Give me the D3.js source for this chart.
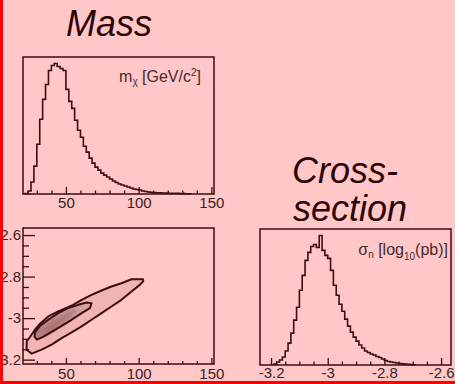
<!DOCTYPE html>
<html><head><meta charset="utf-8">
<script src="https://cdn.jsdelivr.net/npm/d3@7"></script>
<style>
html,body{margin:0;padding:0;background:#ffc7c7;}
svg{display:block;}
text{font-family:"Liberation Sans",Arial,Helvetica,sans-serif;}
</style></head>
<body>
<svg id="c" width="455" height="384"></svg>
<script>
// ---------- data ----------
const massBinStart = 22, massBinWidth = 2;
const massCounts = [0.5,3,12,28,50,75,95,110,124,129,131,128,126,124,105,93,86,74,64,57,48,42,36,31,27,24,21,19,17,15,13,11.5,10,9,8,7,6,5,4.5,4,3,2.5,2,1.8,1.5,1.3,1.1,1,0.9,0.8,0.7,0.7,0.6,0.5,0.4,0.3,0.2];
const sigBinStart = -3.19, sigBinWidth = 0.01;
const sigCounts = [1,3,5,8,14,22,32,45,58,75,90,105,113,119,121,118,130,115,110,107,95,80,70,61,54,46,39,33,28,24,20,17,14,12.5,11,10,8.5,7.5,6,4.5,3.5,3,2.5,2,1.5,1.2,1,0.8,0.5,0.3];
const massDomain = [20.5, 151.8];
const sigDomainX = [-3.239, -2.565];
const sigDomainY = [-3.221, -2.566];
const massMajorTicks = [50,100,150];
const massMinorTicks = [30,40,60,70,80,90,110,120,130,140];
const sigMajorTicks = [-3.2,-3,-2.8,-2.6];
const sigMinorTicks = [-3.15,-3.1,-3.05,-2.95,-2.9,-2.85,-2.75,-2.7,-2.65];
// contours [mass, log10 sigma]
const outerContour = [[103,-2.813],[95.1,-2.813],[88.2,-2.832],[81.3,-2.848],[74.5,-2.867],[67.6,-2.888],[60.8,-2.912],[55,-2.936],[44.7,-2.968],[37.9,-2.992],[32.2,-3.027],[28.7,-3.056],[25.3,-3.091],[23,-3.112],[23,-3.152],[26.5,-3.171],[33.3,-3.152],[40.2,-3.128],[47.1,-3.096],[53.9,-3.069],[60.8,-3.04],[67.6,-3.008],[74.5,-2.976],[81.3,-2.944],[88.2,-2.912],[95.1,-2.872],[100.8,-2.84],[103.2,-2.822]];
const innerContour = [[28.7,-3.07],[32.2,-3.037],[37.9,-3.008],[44.7,-2.976],[51.6,-2.952],[58.4,-2.936],[64.2,-2.925],[67.6,-2.928],[66.5,-2.952],[60.8,-2.976],[53.9,-3.008],[47.1,-3.037],[40.2,-3.066],[34.4,-3.09],[30.1,-3.104],[28.4,-3.09]];
const coreRegion = [[34,-3.07],[40,-3.03],[48,-2.99],[56,-2.96],[58,-2.965],[50,-3.01],[42,-3.05],[36,-3.08]];

// ---------- style ----------
const LINE = "#3c0e0e", TXT = "#3a2222";
const svg = d3.select("#c");
const defs = svg.append("defs");
const blur = defs.append("filter").attr("id","bl").attr("x","-50%").attr("y","-50%").attr("width","200%").attr("height","200%");
blur.append("feGaussianBlur").attr("stdDeviation",2.5);
const grad = defs.append("linearGradient").attr("id","ig").attr("x1","0").attr("x2","1").attr("y1","0").attr("y2","0");
grad.append("stop").attr("offset","0%").attr("stop-color","#b27a7a");
grad.append("stop").attr("offset","100%").attr("stop-color","#dcaaaa");

svg.append("rect").attr("width",455).attr("height",384).attr("fill","#ffc7c7");

function stepPath(xs, ys, start, w, counts){
  const pts = counts.map((c,i)=>[start+i*w, c]);
  pts.push([start+counts.length*w, counts[counts.length-1]]);
  const line = d3.line().x(d=>xs(d[0])).y(d=>ys(d[1])).curve(d3.curveStepAfter);
  const x0 = xs(start), x1 = xs(start+counts.length*w);
  return "M"+x0+","+ys(0)+"L"+line(pts).slice(1)+"L"+x1+","+ys(0);
}
function fmt(d){ return String(d); }
function xAxis(g, scale, y, majors, minors, majLen, minLen, pad){
  const gm = g.append("g").attr("transform",`translate(0,${y})`)
    .call(d3.axisBottom(scale).tickValues(minors).tickSize(-minLen).tickFormat(""));
  const gM = g.append("g").attr("transform",`translate(0,${y})`)
    .call(d3.axisBottom(scale).tickValues(majors).tickSize(-majLen).tickPadding(pad).tickFormat(fmt));
  [gm,gM].forEach(a=>{a.select(".domain").remove(); a.selectAll("line").attr("stroke",LINE).attr("stroke-width",1.3);});
  gM.selectAll("text").attr("fill",TXT).style("font-size","15px");
}
function frame(x0,y0,x1,y1){
  svg.append("rect").attr("x",x0).attr("y",y0).attr("width",x1-x0).attr("height",y1-y0)
    .attr("fill","none").attr("stroke",LINE).attr("stroke-width",1.5);
}

// ---------- panel 1: mass ----------
const xm = d3.scaleLinear().domain(massDomain).range([23,214]);
const ym = d3.scaleLinear().domain([0, d3.max(massCounts)*1.05]).range([194,57]);
svg.append("path").attr("d",stepPath(xm,ym,massBinStart,massBinWidth,massCounts))
  .attr("fill","none").attr("stroke",LINE).attr("stroke-width",1.6);
xAxis(svg.append("g"), xm, 194, massMajorTicks, massMinorTicks, 7, 3.5, 3);
frame(23,57,214,194);
svg.append("text").attr("x",109).attr("y",36).attr("text-anchor","middle")
  .style("font-size","36px").style("font-style","italic").attr("fill","#2c0606").text("Mass");
const ml = svg.append("text").attr("x",201).attr("y",82).attr("text-anchor","end")
  .style("font-size","16px").attr("fill","#4a2a2a");
ml.append("tspan").text("m");
ml.append("tspan").attr("dy",3).style("font-size","10px").text("χ");
ml.append("tspan").attr("dy",-3).text(" [GeV/c");
ml.append("tspan").attr("dy",-6).style("font-size","10px").text("2");
ml.append("tspan").attr("dy",6).text("]");

// ---------- panel 2: contour ----------
const ys2 = d3.scaleLinear().domain(sigDomainY).range([364,228]);
const cl = d3.line().x(d=>xm(d[0])).y(d=>ys2(d[1])).curve(d3.curveLinearClosed);
svg.append("path").attr("d",cl(outerContour)).attr("fill","#f1b4b4").attr("stroke","none");
svg.append("path").attr("d",cl(innerContour)).attr("fill","url(#ig)").attr("stroke","none");
svg.append("path").attr("d",cl(coreRegion)).attr("fill","#9c6262").attr("filter","url(#bl)").attr("opacity",0.8);
svg.append("path").attr("d",cl(outerContour)).attr("fill","none").attr("stroke",LINE).attr("stroke-width",2).attr("stroke-linejoin","round");
svg.append("path").attr("d",cl(innerContour)).attr("fill","none").attr("stroke",LINE).attr("stroke-width",2).attr("stroke-linejoin","round");
xAxis(svg.append("g"), xm, 364, massMajorTicks, massMinorTicks, 6, 3, 4);
{
  const gm = svg.append("g").attr("transform","translate(23,0)")
    .call(d3.axisLeft(ys2).tickValues(sigMinorTicks.filter(v=>v>=sigDomainY[0])).tickSize(-6).tickFormat(""));
  const gM = svg.append("g").attr("transform","translate(23,0)")
    .call(d3.axisLeft(ys2).tickValues(sigMajorTicks).tickSize(-12).tickPadding(2).tickFormat(fmt));
  [gm,gM].forEach(a=>{a.select(".domain").remove(); a.selectAll("line").attr("stroke",LINE).attr("stroke-width",1.3);});
  gM.selectAll("text").attr("fill",TXT).style("font-size","15px");
}
frame(23,228,214,364);

// ---------- panel 3: cross-section ----------
const xs3 = d3.scaleLinear().domain(sigDomainX).range([260,451]);
const ys3 = d3.scaleLinear().domain([0, d3.max(sigCounts)*1.05]).range([365,229]);
svg.append("path").attr("d",stepPath(xs3,ys3,sigBinStart,sigBinWidth,sigCounts))
  .attr("fill","none").attr("stroke",LINE).attr("stroke-width",1.6);
xAxis(svg.append("g"), xs3, 365, sigMajorTicks, sigMinorTicks, 7, 3.5, 2);
frame(260,229,451,365);
svg.append("text").attr("x",345).attr("y",183).attr("text-anchor","middle")
  .style("font-size","36px").style("font-style","italic").attr("fill","#2c0606").text("Cross-");
svg.append("text").attr("x",350).attr("y",221).attr("text-anchor","middle")
  .style("font-size","36px").style("font-style","italic").attr("fill","#2c0606").text("section");
const sl = svg.append("text").attr("x",448).attr("y",255).attr("text-anchor","end")
  .style("font-size","16px").attr("fill","#4a2a2a");
sl.append("tspan").text("σ");
sl.append("tspan").attr("dy",3).style("font-size","10px").text("n");
sl.append("tspan").attr("dy",-3).text(" [log");
sl.append("tspan").attr("dy",5).style("font-size","10px").text("10");
sl.append("tspan").attr("dy",-5).text("(pb)]");

// ---------- red border ----------
svg.append("rect").attr("x",0).attr("y",0).attr("width",3).attr("height",384).attr("fill","#ff0000");
svg.append("rect").attr("x",0).attr("y",381).attr("width",455).attr("height",3).attr("fill","#ff0000");
</script>
</body></html>
